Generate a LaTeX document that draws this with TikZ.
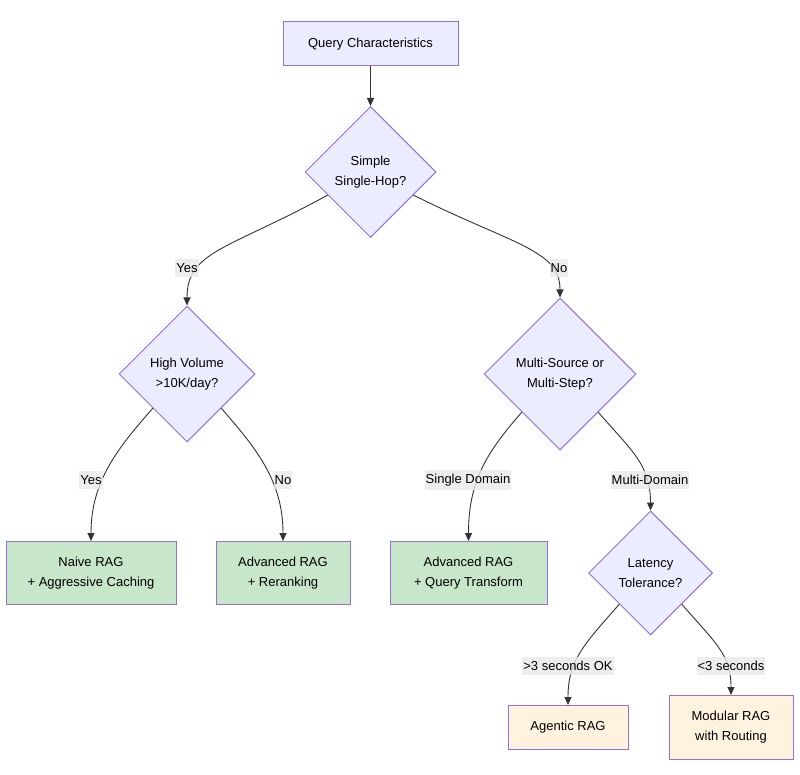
\documentclass[tikz,border=0pt]{standalone}
\usepackage{fontspec}
\setmainfont{Liberation Sans}
\usetikzlibrary{shapes.geometric,arrows.meta,calc}
\definecolor{qfill}{HTML}{ECECFF}
\definecolor{qline}{HTML}{9370DB}
\definecolor{okfill}{HTML}{C8E6C9}
\definecolor{warmfill}{HTML}{FFF3E0}
\definecolor{lblbg}{HTML}{E8E8E8}
\definecolor{arrowc}{HTML}{333333}
\tikzset{
	box/.style={draw=qline, fill=qfill, line width=1pt, align=center, inner sep=0pt},
	dec/.style={diamond, aspect=1, draw=qline, fill=qfill, line width=1pt, align=center, inner sep=0pt},
	lbl/.style={fill=lblbg, fill opacity=.8, text opacity=1, inner xsep=1pt, inner ysep=4pt},
	edge/.style={->, draw=arrowc, line width=.9pt},
}
\begin{document}
\begin{tikzpicture}[>={Triangle[length=8pt,width=7pt]}, x=1pt, y=1pt, font=\fontsize{13}{20}\selectfont]
			\useasboundingbox (0,0) rectangle (800,-775);
			% questions
			\node[box, minimum width=175, minimum height=44] (q) at (370.5,-44) {Query Characteristics};
			\node[dec, minimum width=131, minimum height=131] (s) at (370.5,-172) {Simple\\Single-Hop?};
			\node[dec, minimum width=136, minimum height=136] (hv) at (187,-374) {High Volume\\>10K/day?};
			\node[dec, minimum width=152, minimum height=152] (ms) at (560,-374) {Multi-Source or\\Multi-Step?};
			\node[dec, minimum width=124, minimum height=124] (lt) at (650.5,-573) {Latency\\Tolerance?};
			% answers
			\node[box, fill=okfill, minimum width=170, minimum height=63] (nv) at (91,-573) {Naive RAG\\+ Aggressive Caching};
			\node[box, fill=okfill, minimum width=134, minimum height=63] (ar) at (283,-573) {Advanced RAG\\+ Reranking};
			\node[box, fill=okfill, minimum width=157, minimum height=63] (aq) at (468.5,-573) {Advanced RAG\\+ Query Transform};
			\node[box, fill=warmfill, minimum width=120, minimum height=44] (ag) at (568,-727.5) {Agentic RAG};
			\node[box, fill=warmfill, minimum width=124, minimum height=64] (mr) at (731,-727.5) {Modular RAG\\with Routing};
			% edges
			\draw[edge] (q) -- (s);
			\draw[edge] ($(s.west)!.35!(s.south)$) .. controls +(-98,-54) and +(0,55) .. (hv.north);
			\draw[edge] ($(s.east)!.35!(s.south)$) .. controls +(100,-50) and +(0,48) .. (ms.north);
			\foreach \a/\b/\c/\dx/\h in {hv/nv/south west/-35/60, hv/ar/south east/35/60, ms/aq/south west/-35/60, ms/lt/south east/35/45, lt/ag/south west/-35/45, lt/mr/south east/35/40}
				\draw[edge] (\a.\c) .. controls +(\dx,-40) and +(0,\h) .. (\b.north);
			\foreach \n/\x/\y/\t in {l1/187/268/Yes, l2/559/268/No, l3/91/480/Yes, l4/283/480/No, l5/468/480/Single Domain, l6/650/480/Multi-Domain, l7/568/666/>3 seconds OK, l8/731/666/<3 seconds}
				\node[lbl] (\n) at (\x,-\y) {\t};
		\end{tikzpicture}
\end{document}
